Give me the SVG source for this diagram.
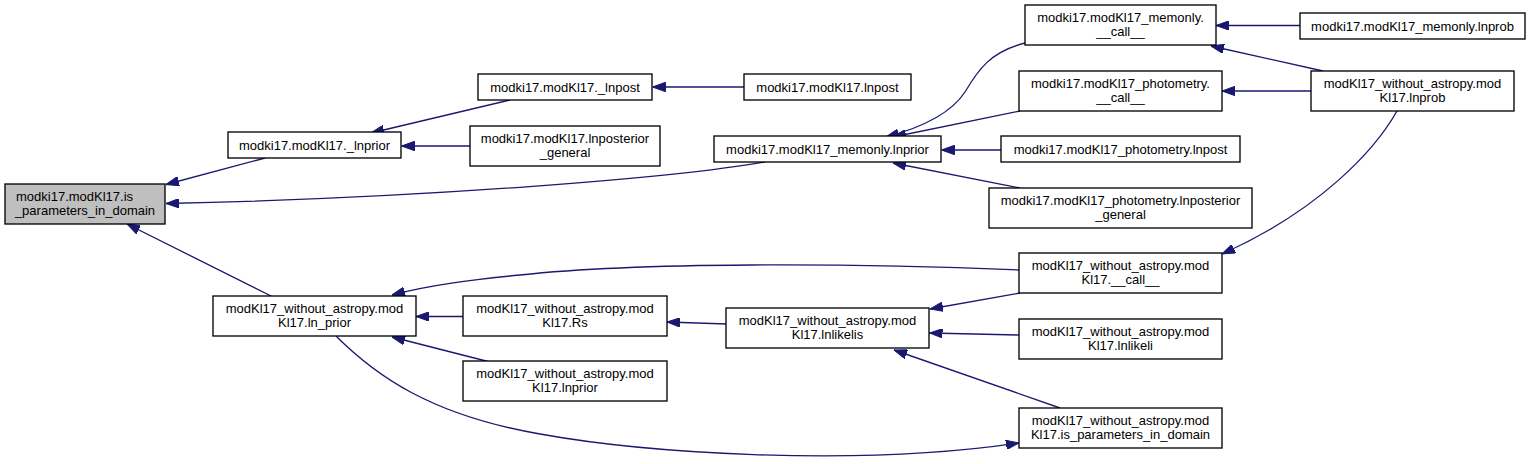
<svg xmlns="http://www.w3.org/2000/svg" width="1532" height="464" viewBox="0 0 1532 464">
<style>
.n rect{fill:#ffffff;stroke:#000000;stroke-width:1.33}
.n.cur rect{fill:#bfbfbf}
.n text{font-family:"Liberation Sans",Arial,Helvetica,sans-serif;font-size:13px;fill:#000000;text-anchor:middle}
.n text.l{text-anchor:start}
.e path{fill:none;stroke:#191970;stroke-width:1.33;marker-end:url(#ah)}
</style>
<defs>
<marker id="ah" viewBox="0 0 13 9.4" refX="13" refY="4.7" markerWidth="13" markerHeight="9.4" markerUnits="userSpaceOnUse" orient="auto">
<path d="M0,0 L13,4.7 L0,9.4 z" fill="#191970" stroke="#191970" stroke-width="1"/>
</marker>
</defs>
<rect width="1532" height="464" fill="#ffffff"/>
<g id="edges" class="e">
<path d="M265,158 L166,184.5"/>
<path d="M765,162 C680,177 430,198 166,203.5"/>
<path d="M273,297 L127,224"/>
<path d="M510,100 L371,133"/>
<path d="M470,146 L401.5,146"/>
<path d="M744,87 L652.5,87"/>
<path d="M1025,43 C990,52 978,70 965,92 C950,115 920,128 886,137"/>
<path d="M1020,111 L893,137"/>
<path d="M1001,150 L941.5,150"/>
<path d="M1020,188 L893,163"/>
<path d="M1300,25.5 L1216,25.5"/>
<path d="M1323,71 L1211,46"/>
<path d="M1312,91 L1222,91"/>
<path d="M1397,111 C1375,150 1320,210 1222,254"/>
<path d="M1019,270 C850,263 640,262 520,275 C470,280 430,285 392,295"/>
<path d="M463,316.5 L416,316.5"/>
<path d="M488,361.5 L392,337"/>
<path d="M336,336 C375,375 430,415 540,434 C640,452 850,468 1019,443"/>
<path d="M727,324 L667,322"/>
<path d="M1020,293 L930,309"/>
<path d="M1019,335 L929.5,333"/>
<path d="M1060,408 L894,350"/>
</g>
<g id="nA" class="n cur"><rect x="5" y="184" width="160" height="40"/><text class="l" x="16" y="201">modki17.modKl17.is</text><text x="85" y="215">_parameters_in_domain</text></g>
<g id="nB" class="n"><rect x="228" y="132" width="173" height="26"/><text x="314.5" y="149.5">modki17.modKl17._lnprior</text></g>
<g id="nC" class="n"><rect x="478" y="74" width="174" height="26"/><text x="565" y="91.5">modki17.modKl17._lnpost</text></g>
<g id="nD" class="n"><rect x="744" y="74" width="167" height="26"/><text x="827.5" y="91.5">modki17.modKl17.lnpost</text></g>
<g id="nE" class="n"><rect x="470" y="126" width="190" height="40"/><text x="565" y="143">modki17.modKl17.lnposterior</text><text x="565" y="157">_general</text></g>
<g id="nF" class="n"><rect x="714" y="136" width="227" height="26"/><text x="827.5" y="153.5">modki17.modKl17_memonly.lnprior</text></g>
<g id="nG" class="n"><rect x="1025" y="5" width="191" height="40"/><text x="1120.5" y="22">modki17.modKl17_memonly.</text><text x="1120.5" y="36">__call__</text></g>
<g id="nH" class="n"><rect x="1300" y="13" width="225" height="26"/><text x="1412.5" y="30.5">modki17.modKl17_memonly.lnprob</text></g>
<g id="nI" class="n"><rect x="1019" y="71" width="203" height="40"/><text x="1120.5" y="88">modki17.modKl17_photometry.</text><text x="1120.5" y="102">__call__</text></g>
<g id="nJ" class="n"><rect x="1311" y="71" width="203" height="40"/><text x="1412.5" y="88">modKl17_without_astropy.mod</text><text x="1412.5" y="102">Kl17.lnprob</text></g>
<g id="nK" class="n"><rect x="1001" y="136" width="239" height="26"/><text x="1120.5" y="153.5">modki17.modKl17_photometry.lnpost</text></g>
<g id="nL" class="n"><rect x="989" y="188" width="263" height="40"/><text x="1120.5" y="205">modki17.modKl17_photometry.lnposterior</text><text x="1120.5" y="219">_general</text></g>
<g id="nM" class="n"><rect x="213" y="296" width="203" height="40"/><text x="314.5" y="313">modKl17_without_astropy.mod</text><text x="314.5" y="327">Kl17.ln_prior</text></g>
<g id="nN" class="n"><rect x="463" y="296" width="204" height="40"/><text x="565" y="313">modKl17_without_astropy.mod</text><text x="565" y="327">Kl17.Rs</text></g>
<g id="nO" class="n"><rect x="463" y="361" width="204" height="40"/><text x="565" y="378">modKl17_without_astropy.mod</text><text x="565" y="392">Kl17.lnprior</text></g>
<g id="nP" class="n"><rect x="726" y="308" width="203" height="40"/><text x="827.5" y="325">modKl17_without_astropy.mod</text><text x="827.5" y="339">Kl17.lnlikelis</text></g>
<g id="nQ" class="n"><rect x="1019" y="253" width="203" height="40"/><text x="1120.5" y="270">modKl17_without_astropy.mod</text><text x="1120.5" y="284">Kl17.__call__</text></g>
<g id="nR" class="n"><rect x="1019" y="319" width="203" height="40"/><text x="1120.5" y="336">modKl17_without_astropy.mod</text><text x="1120.5" y="350">Kl17.lnlikeli</text></g>
<g id="nS" class="n"><rect x="1019" y="408" width="203" height="40"/><text x="1120.5" y="425">modKl17_without_astropy.mod</text><text x="1120.5" y="439">Kl17.is_parameters_in_domain</text></g>
</svg>
